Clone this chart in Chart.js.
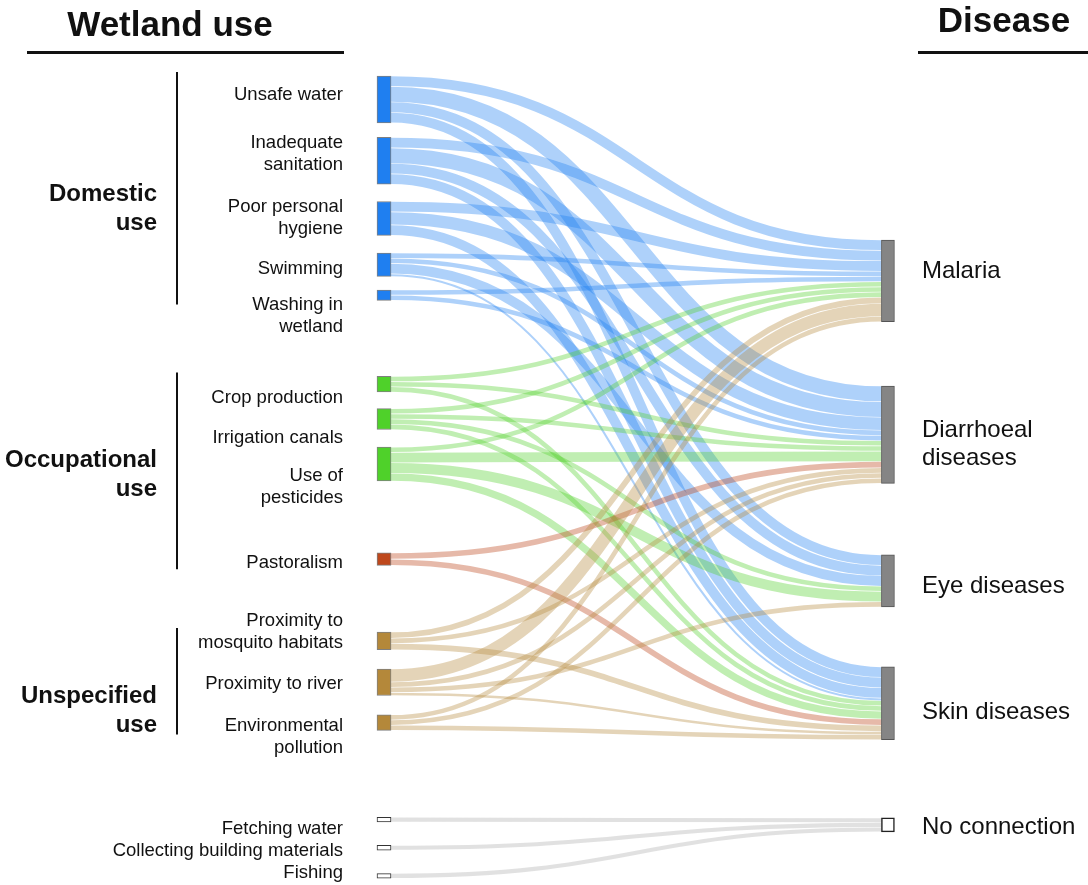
<!DOCTYPE html>
<html lang="en">
<head>
<meta charset="UTF-8">
<title>Wetland use and disease</title>
<script src="https://cdn.jsdelivr.net/npm/chart.js"></script>
<style>
  html, body { margin: 0; padding: 0; background: #fff; }
  #wrap { width: 1088px; height: 885px; position: relative; }
</style>
</head>
<body>
<div id="wrap"><canvas id="sankey"></canvas></div>
<script>
// wetland uses, left column top to bottom
const uses = ['Unsafe water', 'Inadequate\nsanitation', 'Poor personal\nhygiene', 'Swimming', 'Washing in\nwetland',
  'Crop production', 'Irrigation canals', 'Use of\npesticides', 'Pastoralism',
  'Proximity to\nmosquito habitats', 'Proximity to river', 'Environmental\npollution',
  'Fetching water', 'Collecting building materials', 'Fishing'];
const useGroup = ['Domestic', 'Domestic', 'Domestic', 'Domestic', 'Domestic',
  'Occupational', 'Occupational', 'Occupational', 'Occupational',
  'Unspecified', 'Unspecified', 'Unspecified', '', '', ''];
const groups = ['Domestic', 'Occupational', 'Unspecified'];
const groupLabels = ['Domestic\nuse', 'Occupational\nuse', 'Unspecified\nuse'];

// diseases, right column
const diseases = ['Malaria', 'Diarrhoeal\ndiseases', 'Eye diseases', 'Skin diseases', 'No connection'];

// link weights from each wetland use to each disease
const toMalaria =      [2, 2, 2,   1,   1, 1, 1, 1,   0,   1.2, 2.5, 1, 0,   0,   0];
const toDiarrhoeal =   [3, 3, 2.5, 1,   1, 1, 1, 2,   1.2, 1,   1,   1, 0,   0,   0];
const toEye =          [2, 2, 0,   2,   0, 0, 1, 2,   0,   0,   1,   0, 0,   0,   0];
const toSkin =         [2, 2, 2,   0.5, 0, 1, 1, 1.5, 1.2, 1.2, 0.6, 1, 0,   0,   0];
const toNoConnection = [0, 0, 0,   0,   0, 0, 0, 0,   0,   0,   0,   0, 0.9, 0.9, 0.9];

// ---- layout / style ----
// space above each node, in flow units (y axis)
const leftGap = [14.6, 2.8, 3.3, 3.4, 2.6, 14.6, 3.2, 3.4, 13.8, 12.8, 3.7, 3.7, 16.7, 4.5, 4.5];
const rightGap = [46.1, 12.35, 13.75, 11.5, 15];
// hand placed label offsets (px) as in the figure
const leftLabelShift = [-4.5, -6.5, 0, 4, 20.5, 13.5, 18.5, 22.5, 3.5, -9, 1.5, 14, 9, 3, -3];
const rightLabelShift = [-9, 10, 5, 9.5, 3];
const groupLabelShift = [21, 4, 30];

const BLUE = [31, 127, 240], GREEN = [79, 209, 42], RUST = [190, 72, 28], TAN = [180, 136, 58], NONE = [170, 170, 170];
const useColor = [BLUE, BLUE, BLUE, BLUE, BLUE, GREEN, GREEN, GREEN, RUST, TAN, TAN, TAN, NONE, NONE, NONE];
const rgba = (c, a) => `rgba(${c[0]},${c[1]},${c[2]},${a})`;
const FONT = '"Liberation Sans", Arial, sans-serif';

const flows = [toMalaria, toDiarrhoeal, toEye, toSkin, toNoConnection];
const sum = a => a.reduce((s, v) => s + v, 0);
const useTotal = uses.map((u, i) => sum(flows.map(f => f[i])));
const diseaseTotal = flows.map(sum);

function stack(totals, gaps) {
  let pos = 0;
  return totals.map((t, i) => { pos += gaps[i]; const r = [pos, pos + t]; pos += t; return r; });
}
const leftSpan = stack(useTotal, leftGap);
const rightSpan = stack(diseaseTotal, rightGap);

// link offsets: at a source, ordered by target; at a target, ordered by source
const links = [];
const srcOff = leftSpan.map(s => s[0]);
const tgtOff = rightSpan.map(s => s[0]);
uses.forEach((u, i) => {
  flows.forEach((f, j) => {
    if (f[i] > 0) { links.push({ s: i, t: j, v: f[i], sy: srcOff[i] }); srcOff[i] += f[i]; }
  });
});
flows.forEach((f, j) => {
  links.filter(l => l.t === j).sort((a, b) => a.s - b.s).forEach(l => { l.ty = tgtOff[j]; tgtOff[j] += l.v; });
});

const LEFT_W = 14, RIGHT_W = 13;

const sankeyLinks = {
  id: 'sankeyLinks',
  beforeDatasetsDraw(chart) {
    const { ctx, scales: { x, y } } = chart;
    const x0 = x.getPixelForValue(0) + LEFT_W / 2;
    const x1 = x.getPixelForValue(1) - RIGHT_W / 2;
    const xm = (x0 + x1) / 2;
    ctx.save();
    ctx.lineCap = 'butt';
    links.forEach(l => {
      const ya = y.getPixelForValue(l.sy + l.v / 2);
      const yb = y.getPixelForValue(l.ty + l.v / 2);
      const w = y.getPixelForValue(l.v) - y.getPixelForValue(0);
      ctx.beginPath();
      ctx.moveTo(x0, ya);
      ctx.bezierCurveTo(xm, ya, xm, yb, x1, yb);
      ctx.lineWidth = Math.max(w - 0.6, 1);
      const c = useColor[l.s];
      ctx.strokeStyle = rgba(c, c === NONE ? 0.35 : c === RUST ? 0.38 : 0.36);
      ctx.stroke();
    });
    ctx.restore();
  }
};

function drawLines(ctx, text, x, cy, lh) {
  const lines = text.split('\n');
  lines.forEach((t, k) => ctx.fillText(t, x, cy + (k - (lines.length - 1) / 2) * lh));
}

const sankeyText = {
  id: 'sankeyText',
  afterDatasetsDraw(chart) {
    const { ctx, scales: { x, y } } = chart;
    ctx.save();
    ctx.fillStyle = '#111';
    ctx.textBaseline = 'middle';

    // node labels
    ctx.font = '18.5px ' + FONT;
    ctx.textAlign = 'right';
    uses.forEach((u, i) => {
      const cy = y.getPixelForValue((leftSpan[i][0] + leftSpan[i][1]) / 2) + leftLabelShift[i];
      drawLines(ctx, u, x.getPixelForValue(0) - 41, cy, 22);
    });
    ctx.font = '24px ' + FONT;
    ctx.textAlign = 'left';
    diseases.forEach((d, j) => {
      const cy = y.getPixelForValue((rightSpan[j][0] + rightSpan[j][1]) / 2) + rightLabelShift[j];
      drawLines(ctx, d, x.getPixelForValue(1) + 34, cy, 28);
    });

    // group brackets and labels
    const bx = x.getPixelForValue(0) - 207;
    groups.forEach((g, k) => {
      const idx = uses.map((u, i) => i).filter(i => useGroup[i] === g);
      const top = y.getPixelForValue(leftSpan[idx[0]][0]) - 4;
      const bot = y.getPixelForValue(leftSpan[idx[idx.length - 1]][1]) + 4;
      ctx.beginPath();
      ctx.moveTo(bx, top); ctx.lineTo(bx, bot);
      ctx.lineWidth = 2; ctx.strokeStyle = '#111'; ctx.stroke();
      ctx.font = 'bold 24px ' + FONT;
      ctx.textAlign = 'right';
      drawLines(ctx, groupLabels[k], bx - 20, (top + bot) / 2 + groupLabelShift[k], 29);
    });

    // column titles
    ctx.font = 'bold 35px ' + FONT;
    ctx.textAlign = 'center';
    ctx.textBaseline = 'alphabetic';
    ctx.fillText('Wetland use', 170, 36);
    ctx.fillText('Disease', 1004, 32);
    ctx.fillRect(27, 51, 317, 3);
    ctx.fillRect(918, 51, 170, 3);
    ctx.restore();
  }
};

const leftBars = uses.map((u, i) => ({ x: 0, y: leftSpan[i] }));
const rightBars = diseases.map((d, j) => ({ x: 1, y: rightSpan[j] }));

new Chart(document.getElementById('sankey'), {
  type: 'bar',
  data: {
    datasets: [{
      label: 'Wetland use',
      data: leftBars,
      backgroundColor: useColor.map(c => c === NONE ? '#ffffff' : rgba(c, 1)),
      borderColor: useColor.map(c => c === NONE ? '#333' : 'rgba(0,0,0,0.5)'),
      borderWidth: 1,
      borderSkipped: false,
      barThickness: LEFT_W
    }, {
      label: 'Disease',
      data: rightBars,
      backgroundColor: diseases.map((d, j) => j === 4 ? '#ffffff' : '#858585'),
      borderColor: diseases.map((d, j) => j === 4 ? '#222' : '#555'),
      borderWidth: diseases.map((d, j) => j === 4 ? 1.5 : 1),
      borderSkipped: false,
      barThickness: RIGHT_W
    }]
  },
  options: {
    responsive: true,
    maintainAspectRatio: false,
    animation: false,
    events: [],
    layout: { padding: 0 },
    datasets: { bar: { grouped: false } },
    plugins: { legend: { display: false }, tooltip: { enabled: false } },
    scales: {
      x: { type: 'linear', display: false, offset: false, min: -0.762, max: 1.397 },
      y: { type: 'linear', display: false, min: 0, max: 170, reverse: true }
    }
  },
  plugins: [sankeyLinks, sankeyText]
});
</script>
</body>
</html>
